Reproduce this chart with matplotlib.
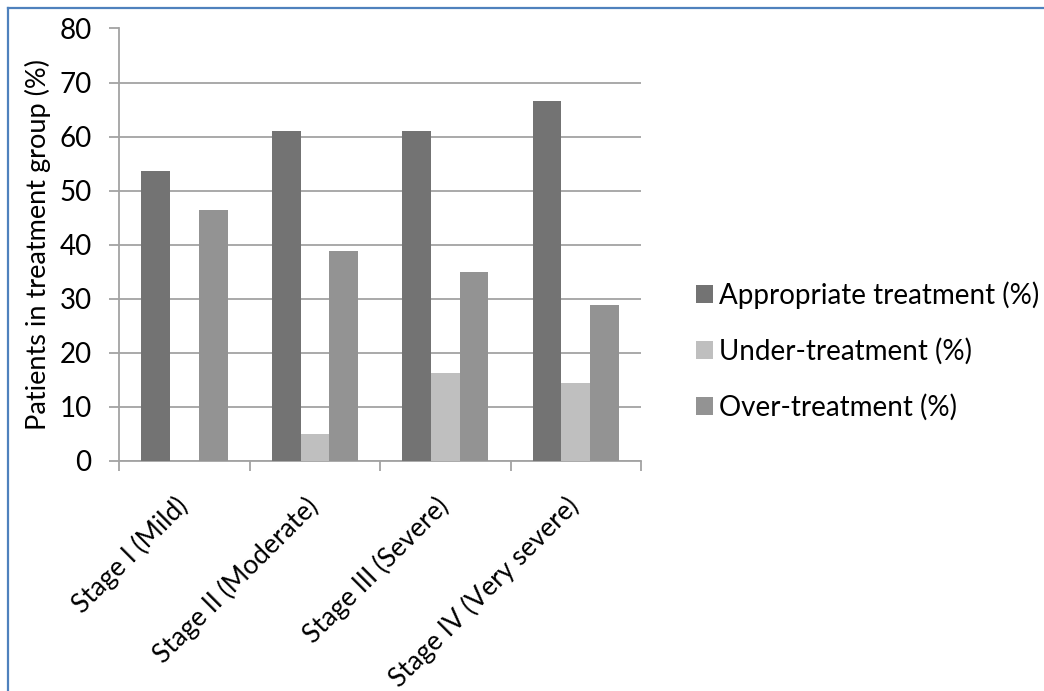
import numpy as np
import matplotlib
matplotlib.use("Agg")
import matplotlib.pyplot as plt
from matplotlib.lines import Line2D
from matplotlib.transforms import ScaledTranslation

plt.rcParams['font.family'] = ['Lato', 'DejaVu Sans']

stages = ['Stage I (Mild)', 'Stage II (Moderate)', 'Stage III (Severe)', 'Stage IV (Very severe)']
appropriate = [53.6, 61.1, 61.1, 66.6]
under = [0.0, 4.9, 16.2, 14.4]
over = [46.4, 38.9, 34.9, 28.8]

series = [
	('Appropriate treatment (%)', appropriate, '#737373'),
	('Under-treatment (%)', under, '#bfbfbf'),
	('Over-treatment (%)', over, '#939393'),
]

grid_col = '#a3a3a3'

fig = plt.figure(figsize=(10.44, 6.91), dpi=100)
ax = fig.add_axes([119.3 / 1044, 1 - 460.7 / 691, (641 - 119.3) / 1044, (460.7 - 28.5) / 691])

x = np.arange(len(stages))
w = 0.22
for i, (name, vals, col) in enumerate(series):
	ax.bar(x + (i - 1) * w, vals, width=w, color=col, label=name, zorder=3)

ax.set_xlim(-0.5, len(stages) - 0.5)
ax.set_ylim(0, 80)
ax.set_yticks(np.arange(0, 81, 10))
ax.yaxis.grid(True, color=grid_col, linewidth=1.3, zorder=0)

for s in ['top', 'right']:
	ax.spines[s].set_visible(False)
for s in ['left', 'bottom']:
	ax.spines[s].set_color(grid_col)
	ax.spines[s].set_linewidth(1.3)

# tick marks on category boundaries, labels on the centres
ax.set_xticks(np.arange(-0.5, len(stages), 1.0))
ax.set_xticklabels([])
ax.tick_params(axis='x', which='major', length=7, width=1.3, color=grid_col, direction='out')
ax.set_xticks(x, labels=stages, minor=True)
ax.tick_params(axis='x', which='minor', length=0, pad=23, labelsize=19)
for lab in ax.get_xticklabels(minor=True):
	lab.set_rotation(45)
	lab.set_ha('right')
	lab.set_va('top')
	lab.set_transform(lab.get_transform() + ScaledTranslation(6 / 72, 0, fig.dpi_scale_trans))

ax.tick_params(axis='y', length=7, width=1.3, color=grid_col, direction='out', pad=13, labelsize=20)
ax.set_ylabel('Patients in treatment group (%)', fontsize=19.5, labelpad=6)

ax.legend(loc='center left', bbox_to_anchor=(696 / 1044, 1 - 351 / 691), bbox_transform=fig.transFigure,
	frameon=False, fontsize=20, handlelength=0.62, handleheight=0.62, handletextpad=0.2,
	labelspacing=1.05, borderpad=0, borderaxespad=0)

# blue frame round the chart
fig.add_artist(Line2D([7.5 / 1044, 7.5 / 1044], [0, 1 - 7.5 / 691], color='#4f81bd', linewidth=1.6))
fig.add_artist(Line2D([7.5 / 1044, 1], [1 - 7.5 / 691, 1 - 7.5 / 691], color='#4f81bd', linewidth=1.6))

fig.savefig('out.png', dpi=100)
